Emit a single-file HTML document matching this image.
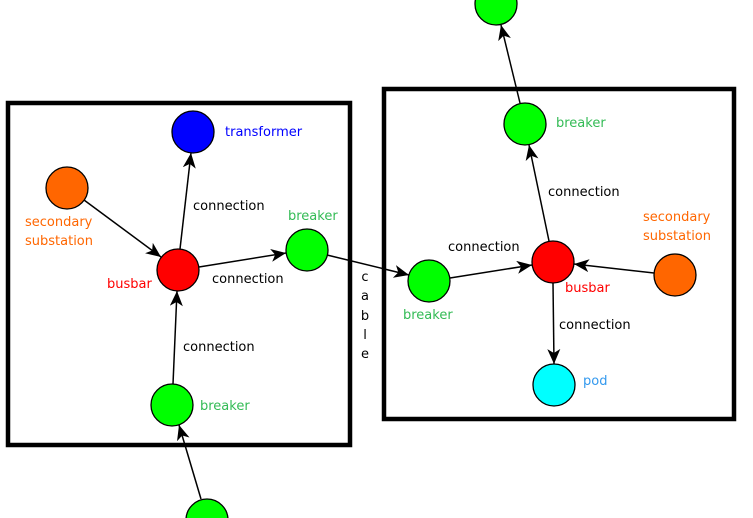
<!DOCTYPE html>
<html><head><meta charset="utf-8"><style>
html,body{margin:0;padding:0;background:#fff;}
svg{display:block;}
text{font-family:"DejaVu Sans","Liberation Sans",sans-serif;font-size:13px;}
</style></head><body>
<svg width="753" height="518" viewBox="0 0 753 518" xmlns="http://www.w3.org/2000/svg">
<defs>
<marker id="a" markerUnits="userSpaceOnUse" markerWidth="16" markerHeight="14" refX="15" refY="6.5" orient="auto">
<path d="M0,0 L15,6.5 L0,13 L4,6.5z" fill="#000"/>
</marker>
</defs>
<rect x="8" y="103" width="342" height="342" fill="none" stroke="#000" stroke-width="4.5"/>
<rect x="384" y="89" width="350" height="330" fill="none" stroke="#000" stroke-width="4.5"/>
<g stroke="#000" stroke-width="1.5" fill="none" marker-end="url(#a)">
<line x1="180" y1="249" x2="191" y2="153"/>
<line x1="84" y1="200" x2="161" y2="257"/>
<line x1="199" y1="267" x2="286" y2="253"/>
<line x1="173" y1="384" x2="177" y2="291"/>
<line x1="201" y1="499" x2="179" y2="425"/>
<line x1="327" y1="255" x2="409" y2="275"/>
<line x1="450" y1="278" x2="532" y2="265"/>
<line x1="549" y1="241" x2="529" y2="145"/>
<line x1="520" y1="103" x2="501" y2="25"/>
<line x1="654" y1="273" x2="574" y2="264"/>
<line x1="553" y1="283" x2="554" y2="364"/>
</g>
<g stroke="#000" stroke-width="1.3">
<circle cx="193" cy="132" r="21" fill="#0000ff"/>
<circle cx="67" cy="188" r="21" fill="#ff6600"/>
<circle cx="178" cy="270" r="21" fill="#ff0000"/>
<circle cx="307" cy="250" r="21" fill="#00ff00"/>
<circle cx="172" cy="405" r="21" fill="#00ff00"/>
<circle cx="207" cy="520" r="21" fill="#00ff00"/>
<circle cx="496" cy="4" r="21" fill="#00ff00"/>
<circle cx="525" cy="124" r="21" fill="#00ff00"/>
<circle cx="553" cy="262" r="21" fill="#ff0000"/>
<circle cx="429" cy="281" r="21" fill="#00ff00"/>
<circle cx="675" cy="275" r="21" fill="#ff6600"/>
<circle cx="554" cy="385" r="21" fill="#00ffff"/>
</g>
<text x="225" y="136" fill="#0000ff">transformer</text>
<text x="193" y="210">connection</text>
<text x="288" y="220" fill="#33bb55">breaker</text>
<text x="25" y="226" fill="#ff6600">secondary</text>
<text x="25" y="245" fill="#ff6600">substation</text>
<text x="107" y="288" fill="#ff0000">busbar</text>
<text x="212" y="283">connection</text>
<text x="183" y="351">connection</text>
<text x="200" y="410" fill="#33bb55">breaker</text>
<g text-anchor="middle">
<text x="365" y="281">c</text>
<text x="365" y="300">a</text>
<text x="365" y="320">b</text>
<text x="365" y="339">l</text>
<text x="365" y="358">e</text>
</g>
<text x="556" y="127" fill="#33bb55">breaker</text>
<text x="548" y="196">connection</text>
<text x="643" y="221" fill="#ff6600">secondary</text>
<text x="643" y="240" fill="#ff6600">substation</text>
<text x="448" y="251">connection</text>
<text x="565" y="292" fill="#ff0000">busbar</text>
<text x="403" y="319" fill="#33bb55">breaker</text>
<text x="559" y="329">connection</text>
<text x="583" y="385" fill="#3399ee">pod</text>
</svg>
</body></html>
